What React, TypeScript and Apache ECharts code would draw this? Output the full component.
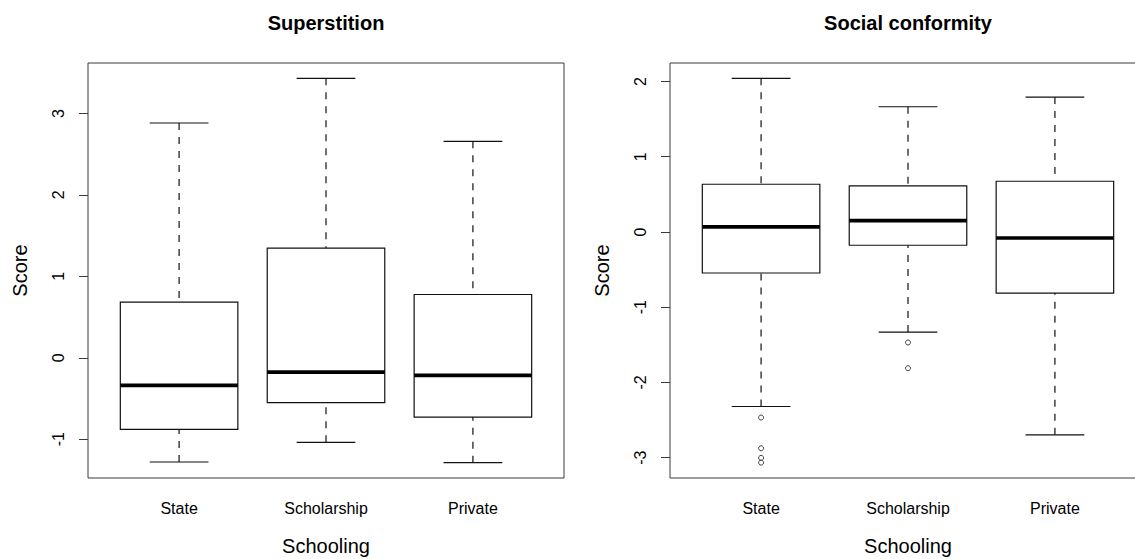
import React, { useEffect, useRef } from 'react';
import * as echarts from 'echarts';

// Schooling groups on the x axis
const categories = ['State', 'Scholarship', 'Private'];

// Superstition scores: whisker ends, quartiles and medians per group
const superLower = [-1.28, -1.039, -1.288];
const superQ1 = [-0.879, -0.552, -0.728];
const superMedian = [-0.339, -0.176, -0.217];
const superQ3 = [0.683, 1.346, 0.777];
const superUpper = [2.883, 3.431, 2.658];
const superOutliers: number[][] = [[], [], []];
const superTicks = [-1, 0, 1, 2, 3];

// Social conformity scores
const confLower = [-2.32, -1.331, -2.697];
const confQ1 = [-0.546, -0.177, -0.812];
const confMedian = [0.067, 0.151, -0.08];
const confQ3 = [0.634, 0.612, 0.674];
const confUpper = [2.041, 1.664, 1.793];
const confOutliers: number[][] = [[-2.467, -2.875, -3.003, -3.066], [-1.469, -1.811], []];
const confTicks = [-3, -2, -1, 0, 1, 2];

const FONT = '"Liberation Sans", Arial, Helvetica, sans-serif';
const INK = '#111';
const FRAME = '#3a3a3a';
const BOX_WEX = 0.8;

const PLOT_TOP = 63;
const PLOT_HEIGHT = 415;
const PLOT_WIDTH = 476;
const PLOT_LEFTS = [88, 670];

type Panel = {
  title: string;
  lower: number[];
  q1: number[];
  median: number[];
  q3: number[];
  upper: number[];
  outliers: number[][];
  ticks: number[];
};

const panels: Panel[] = [
  { title: 'Superstition', lower: superLower, q1: superQ1, median: superMedian, q3: superQ3, upper: superUpper, outliers: superOutliers, ticks: superTicks },
  { title: 'Social conformity', lower: confLower, q1: confQ1, median: confMedian, q3: confQ3, upper: confUpper, outliers: confOutliers, ticks: confTicks },
];

// Axis range padded by 4% on each side, like base R graphics
function padded(lo: number, hi: number): [number, number] {
  const d = (hi - lo) * 0.04;
  return [lo - d, hi + d];
}

function renderBox(params: any, api: any) {
  const x = api.value(0);
  const lo = api.value(1);
  const q1 = api.value(2);
  const med = api.value(3);
  const q3 = api.value(4);
  const hi = api.value(5);
  const halfW = api.size([BOX_WEX, 0])[0] / 2;
  const capW = halfW / 2;
  const cx = api.coord([x, med])[0];
  const y = (v: number) => api.coord([x, v])[1];
  const thin = { stroke: INK, lineWidth: 1.2 };
  const dashed = { stroke: INK, lineWidth: 1.2, lineDash: [7, 7] };
  return {
    type: 'group',
    children: [
      { type: 'line', shape: { x1: cx, y1: y(hi), x2: cx, y2: y(q3) }, style: dashed },
      { type: 'line', shape: { x1: cx, y1: y(lo), x2: cx, y2: y(q1) }, style: dashed },
      { type: 'line', shape: { x1: cx - capW, y1: y(hi), x2: cx + capW, y2: y(hi) }, style: thin },
      { type: 'line', shape: { x1: cx - capW, y1: y(lo), x2: cx + capW, y2: y(lo) }, style: thin },
      {
        type: 'rect',
        shape: { x: cx - halfW, y: y(q3), width: halfW * 2, height: y(q1) - y(q3) },
        style: { fill: '#fff', stroke: INK, lineWidth: 1.2 },
      },
      { type: 'line', shape: { x1: cx - halfW, y1: y(med), x2: cx + halfW, y2: y(med) }, style: { stroke: '#000', lineWidth: 3.6 } },
    ],
  };
}

function buildOption() {
  const xRange = padded(0.5, categories.length + 0.5);
  const catPositions = categories.map((_, i) => i + 1);

  const grid = panels.map((_, i) => ({
    left: PLOT_LEFTS[i],
    top: PLOT_TOP,
    width: PLOT_WIDTH,
    height: PLOT_HEIGHT,
    show: true,
    borderColor: FRAME,
    borderWidth: 1,
    backgroundColor: 'transparent',
    containLabel: false,
    outerBoundsMode: 'none',
  }));

  const xAxis = panels.map((_, i) => ({
    type: 'value',
    gridIndex: i,
    min: xRange[0],
    max: xRange[1],
    axisLine: { show: false },
    splitLine: { show: false },
    axisTick: { show: true, length: 9, customValues: catPositions, lineStyle: { color: FRAME, width: 1 } },
    axisLabel: {
      customValues: catPositions,
      formatter: (v: number) => categories[Math.round(v) - 1] ?? '',
      fontSize: 16,
      fontFamily: FONT,
      color: '#000',
      margin: 22,
    },
    name: 'Schooling',
    nameLocation: 'middle',
    nameGap: 58,
    nameTextStyle: { fontSize: 20, fontFamily: FONT, color: '#000' },
  }));

  const yAxis = panels.map((p, i) => {
    const all = [...p.lower, ...p.upper, ...p.outliers.flat()];
    const [lo, hi] = padded(Math.min(...all), Math.max(...all));
    return {
      type: 'value',
      gridIndex: i,
      min: lo,
      max: hi,
      axisLine: { show: false },
      splitLine: { show: false },
      axisTick: { show: true, length: 9, customValues: p.ticks, lineStyle: { color: FRAME, width: 1 } },
      axisLabel: {
        customValues: p.ticks,
        rotate: 90,
        fontSize: 16,
        fontFamily: FONT,
        color: '#000',
        margin: 22,
      },
      name: 'Score',
      nameLocation: 'middle',
      nameGap: 58,
      nameTextStyle: { fontSize: 20, fontFamily: FONT, color: '#000' },
    };
  });

  const series: any[] = [];
  panels.forEach((p, i) => {
    series.push({
      type: 'custom',
      xAxisIndex: i,
      yAxisIndex: i,
      renderItem: renderBox,
      encode: { x: 0, y: [1, 2, 3, 4, 5] },
      data: categories.map((_, k) => [k + 1, p.lower[k], p.q1[k], p.median[k], p.q3[k], p.upper[k]]),
      silent: true,
    });
    series.push({
      type: 'scatter',
      xAxisIndex: i,
      yAxisIndex: i,
      symbol: 'circle',
      symbolSize: 5,
      itemStyle: { color: '#fff', borderColor: INK, borderWidth: 1 },
      data: p.outliers.flatMap((vals, k) => vals.map((v) => [k + 1, v])),
      silent: true,
      z: 5,
    });
  });

  const graphic = panels.map((p, i) => ({
    type: 'text',
    x: PLOT_LEFTS[i] + PLOT_WIDTH / 2,
    y: 23,
    style: {
      text: p.title,
      font: `bold 20px ${FONT}`,
      fill: '#000',
      align: 'center',
      verticalAlign: 'middle',
    },
  }));

  return {
    animation: false,
    backgroundColor: '#fff',
    grid,
    xAxis,
    yAxis,
    series,
    graphic,
  };
}

export default function App() {
  const ref = useRef<HTMLDivElement>(null);

  useEffect(() => {
    if (!ref.current) return;
    const chart = echarts.init(ref.current, undefined, { renderer: 'svg' });
    chart.setOption(buildOption() as any);
    return () => chart.dispose();
  }, []);

  return (
    <div
      ref={ref}
      style={{ position: 'absolute', left: 0, top: 0, width: 1135, height: 559, background: '#fff' }}
    />
  );
}
